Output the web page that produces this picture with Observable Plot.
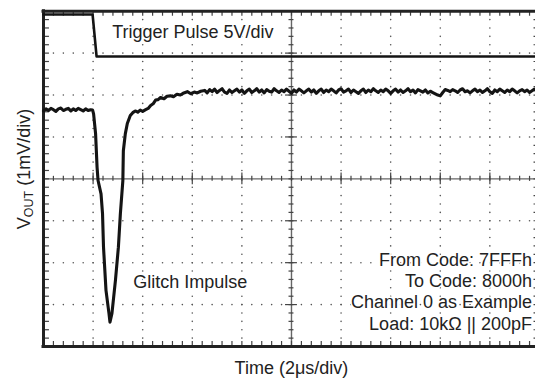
<!DOCTYPE html>
<html><head><meta charset="utf-8">
<script src="https://cdn.jsdelivr.net/npm/d3@7"></script>
<script src="https://cdn.jsdelivr.net/npm/@observablehq/plot@0.6"></script>
<style>
html,body{margin:0;padding:0;overflow:hidden;background:#fff;}
#chart svg{overflow:hidden;display:block;}
</style></head><body><div id="chart"></div>
<script>
// ---- data (x in divisions of 2 µs, y in divisions of 1 mV; trigger in divisions of 5 V) ----
const trigX = [0, 0.99, 1.07, 10];
const trigY = [3.92, 3.92, 2.92, 2.92];

// pre-glitch baseline, sampled every 0.05 div from 0
const preY = [1.62,1.67,1.63,1.68,1.65,1.61,1.67,1.69,1.63,1.66,1.68,1.62,1.67,1.63,1.68,1.65,1.62,1.67,1.63,1.65];

// glitch and settling
const glitchX = [0.99,1.01,1.05,1.08,1.10,1.16,1.19,1.21,1.26,1.32,1.34,1.38,1.45,1.51,1.55,1.60,1.61,1.65,1.69,1.75,1.80,1.85,1.90,1.95,2.00,2.06,2.11,2.16,2.21,2.26,2.31,2.36,2.43,2.49,2.56,2.62,2.69,2.76,2.83,2.90,2.97,3.04,3.10,3.17];
const glitchY = [1.64,1.55,1.08,0.28,-0.04,-0.36,-0.83,-1.63,-2.66,-3.21,-3.42,-3.21,-2.43,-1.63,-0.83,-0.04,0.67,1.08,1.32,1.51,1.58,1.62,1.59,1.64,1.61,1.65,1.68,1.75,1.79,1.88,1.89,1.94,1.91,1.97,1.98,1.96,2.02,2.00,2.05,2.08,2.03,2.07,2.05,2.09];

// settled level, sampled every 0.05 div from 3.25
const postY = [
 2.11,2.05,2.13,2.08,2.14,2.06,2.11,2.15,2.07,2.04,
 2.12,2.06,2.10,2.14,2.07,2.12,2.04,2.10,2.14,2.06,
 2.10,2.15,2.07,2.12,2.05,2.13,2.09,2.07,2.15,2.10,
 2.06,2.12,2.08,2.14,2.09,2.04,2.12,2.07,2.14,2.10,
 2.05,2.10,2.14,2.07,2.12,2.04,2.10,2.14,2.06,2.12,
 2.08,2.14,2.10,2.05,2.12,2.15,2.07,2.10,2.14,2.06,
 2.12,2.08,2.04,2.10,2.14,2.06,2.12,2.08,2.15,2.10,
 2.06,2.12,2.08,2.14,2.10,2.04,2.10,2.14,2.07,2.12,
 2.06,2.10,2.15,2.08,2.12,2.05,2.13,2.10,2.07,2.12,
 2.05,2.09,2.06,2.03,2.00,1.98,2.06,2.13,2.11,2.08,
 2.13,2.10,2.06,2.12,2.15,2.08,2.10,2.05,2.10,2.14,
 2.08,2.12,2.06,2.10,2.15,2.08,2.04,2.12,2.08,2.14,
 2.10,2.06,2.12,2.08,2.14,2.10,2.05,2.10,2.13,2.08,
 2.12,2.06,2.10,2.14,2.08,2.10];

const trigLabel = "Trigger Pulse 5V/div";
const glitchLabel = "Glitch Impulse";
const noteLines = ["From Code: 7FFFh", "To Code: 8000h", "Channel 0 as Example", "Load: 10kΩ || 200pF"];
const xLabel = "Time (2μs/div)";
const yLabelMain = "V", yLabelSub = "OUT", yLabelRest = " (1mV/div)";

// ---- build tables ----
const step = 0.05;
const trig = trigX.map((x, i) => ({x, y: trigY[i]}));
const sig = [
  ...preY.map((y, i) => ({x: i * step, y})),
  ...glitchX.map((x, i) => ({x, y: glitchY[i]})),
  ...postY.map((y, i) => ({x: 3.25 + i * step, y}))
];

const minorX = d3.range(0, 50.5).map(i => i / 5);
const minorY = d3.range(-20, 20.5).map(i => i / 5);
const majX = [1,2,3,4,6,7,8,9];
const majY = [-3,-2,-1,1,2,3];
const dots = [];
for (const gx of majX) for (const yy of minorY) if (Math.abs(yy) < 3.95) dots.push({x: gx, y: yy});
for (const gy of majY) for (const xx of minorX) if (xx > 0.05 && xx < 9.95) dots.push({x: xx, y: gy});

const ink = "#141414";
const tickC = "#444";
const font = "'Liberation Sans', Arial, Helvetica, sans-serif";

const chart = Plot.plot({
  width: 535, height: 385,
  marginLeft: 43, marginRight: 0, marginTop: 10.7, marginBottom: 39,
  x: {domain: [0, 9.92], axis: null},
  y: {domain: [-4, 4], axis: null},
  style: {fontFamily: font, background: "#fff"},
  marks: [
    Plot.dot(dots, {x: "x", y: "y", r: 0.8, fill: "#555", stroke: null}),
    // center cross
    Plot.ruleY([0], {stroke: "#666", strokeWidth: 1.4}),
    Plot.ruleX([5], {stroke: "#666", strokeWidth: 1.4}),
    Plot.ruleX(minorX, {x: d => d, y1: -0.06, y2: 0.06, stroke: tickC, strokeWidth: 1.2}),
    Plot.ruleY(minorY, {y: d => d, x1: 4.95, x2: 5.05, stroke: tickC, strokeWidth: 1.2}),
    Plot.ruleX(majX, {x: d => d, y1: -0.14, y2: 0.14, stroke: tickC, strokeWidth: 1.2}),
    Plot.ruleY(majY, {y: d => d, x1: 4.88, x2: 5.12, stroke: tickC, strokeWidth: 1.2}),
    // edge ticks
    Plot.ruleX(minorX, {x: d => d, y1: 4, y2: 3.88, stroke: tickC, strokeWidth: 1.2}),
    Plot.ruleX(minorX, {x: d => d, y1: -4, y2: -3.88, stroke: tickC, strokeWidth: 1.2}),
    Plot.ruleY(minorY, {y: d => d, x1: 0, x2: 0.12, stroke: tickC, strokeWidth: 1.2}),
    Plot.ruleY(minorY, {y: d => d, x1: 10, x2: 9.89, stroke: tickC, strokeWidth: 1.2}),
    // frame (right edge lies just outside the picture)
    Plot.ruleX([0], {stroke: "#222", strokeWidth: 3, strokeLinecap: "square"}),
    Plot.ruleY([4, -4], {stroke: "#222", strokeWidth: 3, strokeLinecap: "square"}),
    // traces
    Plot.line(trig, {x: "x", y: "y", stroke: ink, strokeWidth: 2.6, strokeLinejoin: "round"}),
    Plot.line(sig, {x: "x", y: "y", stroke: ink, strokeWidth: 3.1, strokeLinejoin: "round", strokeLinecap: "round"}),
    // annotations
    Plot.text([trigLabel], {x: 1.385, y: 3.49, text: d => d, textAnchor: "start", fontSize: 18, fill: "#222", stroke: "#fff", strokeWidth: 3}),
    Plot.text([glitchLabel], {x: 1.81, y: -2.47, text: d => d, textAnchor: "start", fontSize: 18, fill: "#222", stroke: "#fff", strokeWidth: 3}),
    Plot.text([noteLines.join("\n")], {x: 9.85, y: -1.71, text: d => d, textAnchor: "end", lineAnchor: "top", lineHeight: 1.185, fontSize: 18, fill: "#222", stroke: "#fff", strokeWidth: 3}),
    Plot.text([xLabel], {x: 5, frameAnchor: "bottom", dy: 27, text: d => d, fontSize: 18, fill: "#222"})
  ]
});
document.getElementById("chart").appendChild(chart);

// y-axis label with subscript
const svg = d3.select(chart);
const yl = svg.append("text")
  .attr("transform", "translate(30,169) rotate(-90)")
  .attr("text-anchor", "middle")
  .attr("font-family", font)
  .attr("font-size", 18)
  .attr("fill", "#222");
yl.append("tspan").text(yLabelMain);
yl.append("tspan").attr("font-size", 12.5).attr("dy", 3).text(yLabelSub);
yl.append("tspan").attr("dy", -3).text(yLabelRest);
</script></body></html>
